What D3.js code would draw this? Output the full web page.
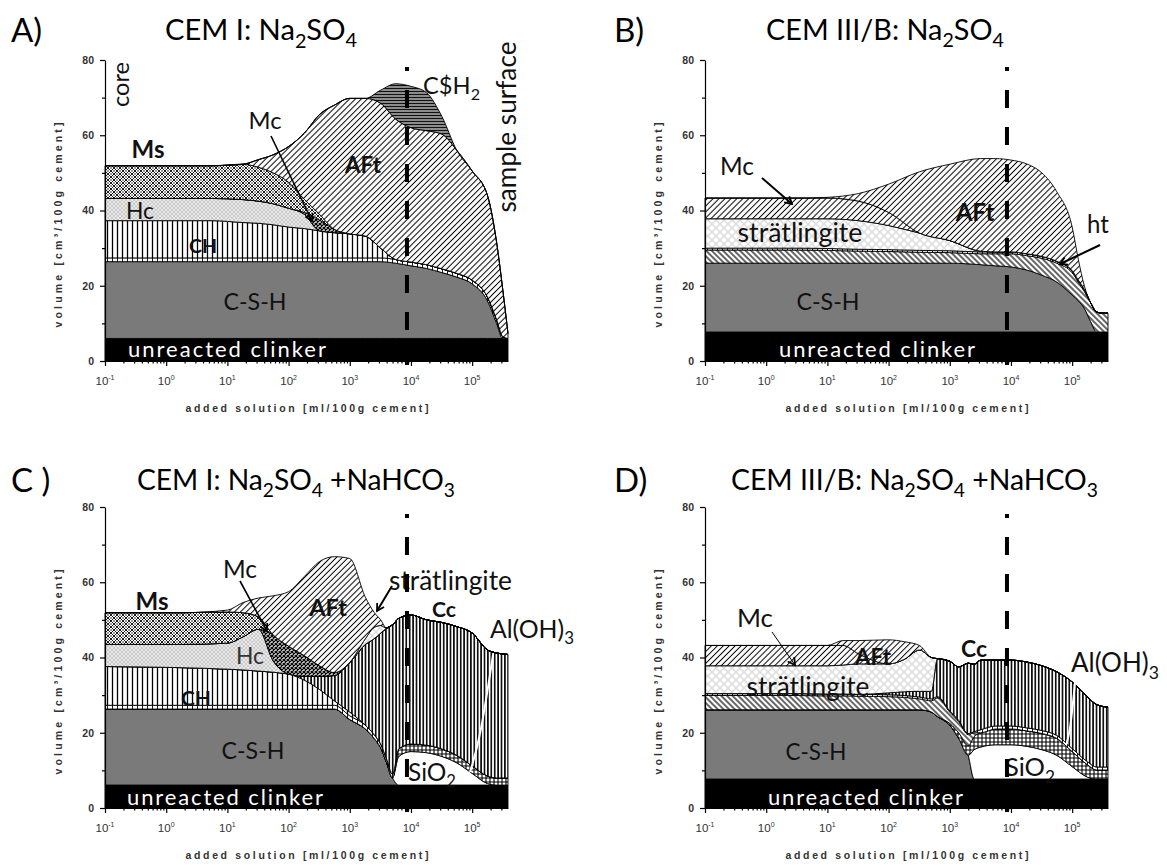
<!DOCTYPE html>
<html>
<head>
<meta charset="utf-8">
<script src="https://cdn.jsdelivr.net/npm/d3@7"></script>
<style>
  html, body { margin: 0; padding: 0; background: #fff; }
  svg { display: block; }
</style>
</head>
<body>
<svg id="chart" width="1167" height="865"></svg>
<script>
// ---------------------------------------------------------------------------
// Phase volumes [cm3/100 g cement] versus added solution [ml/100 g cement]
// ---------------------------------------------------------------------------

// A) CEM I: Na2SO4
const solutionA = [0.1, 5.6, 18, 32, 56, 100, 180, 320, 560, 1000, 1800, 3200, 5600, 10000, 18000, 32000, 56000, 100000, 178000, 251000, 316000, 385000];
const clinkerA  = [6, 6, 6, 6, 6, 6, 6, 6, 6, 6, 6, 6, 6, 6, 6, 6, 6, 6, 6, 6, 6, 6];
const cshA      = [20.4, 20.4, 20.4, 20.4, 20.4, 20.4, 20.4, 20.4, 20.4, 20.4, 20.4, 20.4, 20.0, 19.3, 18.6, 17.5, 16.3, 14.5, 10, 4, 0, 0];
const htA       = [1, 1, 1, 1, 1, 1, 1, 1, 1, 1, 1, 1, 1, 1, 1, 1, 1, 1, 1, 1, 0.5, 0];
const chA       = [9.9, 9.9, 9.4, 9.2, 8.8, 8.2, 7.8, 7.2, 6.7, 6.4, 5.8, 2.6, 0, 0, 0, 0, 0, 0, 0, 0, 0, 0];
const hcA       = [5.9, 5.9, 6.1, 5.9, 5.6, 5.0, 3.8, 0, 0, 0, 0, 0, 0, 0, 0, 0, 0, 0, 0, 0, 0, 0];
const mcA       = [0, 0, 0, 0, 0, 0, 0.5, 2.9, 0.9, 0, 0, 0, 0, 0, 0, 0, 0, 0, 0, 0, 0, 0];
const msA       = [8.7, 8.7, 9.4, 9.0, 8.2, 6.9, 3.5, 1.5, 0, 0, 0, 0, 0, 0, 0, 0, 0, 0, 0, 0, 0, 0];
const aftA      = [0, 0, 0, 2.0, 4.8, 9.5, 17.5, 26.5, 33, 36, 36.6, 38.5, 37.3, 35.7, 35.6, 35.8, 32.7, 29, 27, 20.5, 12.5, 1.3];
const gypsumA   = [0, 0, 0, 0, 0, 0, 0, 0, 0, 0, 0, 3.5, 9.4, 11, 10.1, 4.7, 0, 0, 0, 0, 0, 0];

// B) CEM III/B: Na2SO4
const solutionB = [0.1, 3.2, 10, 32, 100, 320, 1000, 3200, 5600, 10000, 18000, 32000, 56000, 100000, 126000, 158000, 200000, 251000, 316000, 385000];
const clinkerB  = [7.7, 7.7, 7.7, 7.7, 7.7, 7.7, 7.7, 7.7, 7.7, 7.7, 7.7, 7.7, 7.7, 7.7, 7.7, 7.7, 7.7, 7.7, 7.7, 7.7];
const cshB      = [18.3, 18.3, 18.3, 18.3, 18.3, 18.3, 18.3, 17.9, 17.6, 17.3, 16.5, 15.1, 13.3, 9.8, 8.3, 6.3, 2.8, 0, 0, 0];
const htB       = [3.5, 3.5, 3.4, 3.2, 3.1, 2.9, 2.8, 2.9, 3.2, 3.5, 3.8, 4.5, 5, 6, 5, 4.5, 5, 5.3, 5, 5];
const traceB    = [0.5, 0.5, 0.5, 0.5, 0.5, 0.5, 0.5, 0.5, 0.5, 0.5, 0.5, 0.5, 0.5, 0.5, 0.5, 0.5, 0, 0, 0, 0];
const stratB    = [7.8, 7.8, 7.9, 7.6, 6.4, 4.6, 2.7, 0.2, 0, 0, 0, 0, 0, 0, 0, 0, 0, 0, 0, 0];
const mcB       = [5.5, 5.5, 5.5, 5.2, 3.5, 0, 0, 0, 0, 0, 0, 0, 0, 0, 0, 0, 0, 0, 0, 0];
const aftB      = [0, 0, 0.2, 2.0, 7.5, 16.3, 20.3, 24.6, 24.8, 24.4, 23.9, 22.2, 18.5, 11.6, 5.5, 1.0, 0, 0, 0, 0];

// C) CEM I: Na2SO4 + NaHCO3
const solutionC = [0.1, 1.8, 10, 18, 32, 56, 100, 180, 320, 560, 1000, 1800, 2500, 3200, 4000, 5000, 6300, 10000, 18000, 32000, 56000, 100000, 178000, 251000, 385000];
const clinkerC  = [6.1, 6.1, 6.1, 6.1, 6.1, 6.1, 6.1, 6.1, 6.1, 6.1, 6.1, 6.1, 6.1, 6.1, 6.1, 6.1, 6.1, 6.1, 6.1, 6.1, 6.1, 6.1, 6.1, 6.1, 6.1];
const cshC      = [20.2, 20.2, 20.2, 20.2, 20.2, 20.2, 20.2, 20.2, 20.2, 20.2, 17.4, 14.9, 12.4, 9.9, 5.9, 1.9, 0, 0, 0, 0, 0, 0, 0, 0, 0];
const sio2C     = [0, 0, 0, 0, 0, 0, 0, 0, 0, 0, 0, 0, 0, 0, 0, 0, 7.6, 8.9, 8.6, 7.6, 5.9, 3.1, 0.4, 0, 0];
const alohC     = [0, 0, 0, 0, 0, 0, 0, 0, 0, 0, 0, 0, 0, 0, 0, 0, 2, 2, 2, 2, 2, 2, 2, 1.9, 1.9];
const htC       = [1, 1, 1, 1, 1, 1, 1, 1, 1, 1, 1, 1, 1, 1, 1, 1, 0, 0, 0, 0, 0, 0, 0, 0, 0];
const chC       = [10.3, 10.0, 9.6, 9.4, 9.1, 8.8, 8.3, 6.7, 4.2, 1.2, 1.0, 0, 0, 0, 0, 0, 0, 0, 0, 0, 0, 0, 0, 0, 0];
const ccC       = [0, 0, 0, 0, 0, 0, 0, 1.0, 3.5, 6.7, 13.2, 21.5, 25.5, 29.5, 34.8, 39.7, 34.7, 34.3, 33.3, 33.6, 34.2, 35.3, 33.5, 33.2, 32.8];
const hcC       = [5.9, 6.2, 6.9, 8.8, 11.1, 3.0, 0, 0, 0, 0, 0, 0, 0, 0, 0, 0, 0, 0, 0, 0, 0, 0, 0, 0, 0];
const mcC       = [0, 0, 0, 0, 0, 6.9, 7.4, 5.5, 2.8, 0.8, 0, 0, 0, 0, 0, 0, 0, 0, 0, 0, 0, 0, 0, 0, 0];
const msC       = [8.4, 8.4, 8.3, 6.4, 3.3, 0, 0, 0, 0, 0, 0, 0, 0, 0, 0, 0, 0, 0, 0, 0, 0, 0, 0, 0, 0];
const stratC    = [0, 0, 0, 0, 0, 0, 0, 0, 0, 0, 0, 1.5, 3.0, 2.0, 0, 0, 0, 0, 0, 0, 0, 0, 0, 0, 0];
const aftC      = [0, 0, 0.5, 2.7, 5.0, 10.4, 14.5, 21, 27.7, 30.8, 27.6, 11, 4, 1.5, 0, 0, 0, 0, 0, 0, 0, 0, 0, 0, 0];

// D) CEM III/B: Na2SO4 + NaHCO3
const solutionD = [0.1, 3.2, 10, 18, 32, 100, 180, 320, 500, 630, 1000, 1400, 2000, 2500, 3200, 5600, 10000, 18000, 32000, 56000, 100000, 178000, 251000, 385000];
const clinkerD  = [7.7, 7.7, 7.7, 7.7, 7.7, 7.7, 7.7, 7.7, 7.7, 7.7, 7.7, 7.7, 7.7, 7.7, 7.7, 7.7, 7.7, 7.7, 7.7, 7.7, 7.7, 7.7, 7.7, 7.7];
const cshD      = [18.4, 18.4, 18.4, 18.4, 18.4, 18.4, 18.4, 18.4, 17.8, 16.6, 14.3, 10.8, 6.3, 0, 0, 0, 0, 0, 0, 0, 0, 0, 0, 0];
const sio2D     = [0, 0, 0, 0, 0, 0, 0, 0, 0, 0, 0, 0, 0, 7.8, 8.5, 9.1, 9.1, 8.7, 7.8, 6.3, 3.3, 0.5, 0, 0];
const alohD     = [0, 0, 0, 0, 0, 0, 0, 0, 0, 0, 0.5, 1.5, 2.5, 3.5, 3.8, 4.2, 4.2, 4.1, 4.3, 4.5, 4.0, 3.3, 2.4, 2.4];
const htD       = [3.8, 3.8, 3.7, 3.7, 3.6, 3.5, 3.3, 2.9, 3.0, 5.0, 3.0, 3.0, 3.0, 1.0, 0, 0, 0, 0, 0, 0, 0, 0, 0, 0];
const traceD    = [0.5, 0.5, 0.5, 0.5, 0.5, 0.5, 0.5, 0.5, 0.5, 0.3, 0.3, 0.3, 0.3, 0.3, 0.8, 0.8, 0.8, 0.8, 0.8, 0.8, 0.8, 0.8, 0.8, 0.8];
const ccD       = [0, 0, 0, 0, 0, 0.5, 1.0, 1.5, 2.0, 10.1, 13.2, 14.2, 18.7, 17.9, 18.5, 17.5, 17.5, 17.5, 17.2, 16.9, 17.7, 17.2, 16.6, 15.9];
const stratD    = [7.4, 7.4, 7.5, 7.7, 8.1, 7.7, 8.6, 11, 9.0, 0, 0, 0, 0, 0, 0, 0, 0, 0, 0, 0, 0, 0, 0, 0];
const mcD       = [5.4, 5.4, 5.4, 5.2, 2.7, 0, 0, 0, 0, 0, 0, 0, 0, 0, 0, 0, 0, 0, 0, 0, 0, 0, 0, 0];
const aftD      = [0, 0, 0, 1.3, 3.5, 6.4, 4.7, 1.2, 0, 0, 0, 0, 0, 0, 0, 0, 0, 0, 0, 0, 0, 0, 0, 0];

// Axis ticks
const volumeTicks      = [0, 20, 40, 60, 80];
const volumeMinorTicks = [10, 30, 50, 70];
const solutionDecades  = [0.1, 1, 10, 100, 1000, 10000, 100000];
const decadeExponents  = ["-1", "0", "1", "2", "3", "4", "5"];
const solutionDomain   = [0.1, 385000];
const outerSurfaceAt   = 8600;   // position of the dashed marker line

// ---------------------------------------------------------------------------
const svg = d3.select("#chart");
const defs = svg.append("defs");

function makePattern(id, w, h, build, rotate) {
  const p = defs.append("pattern").attr("id", id)
    .attr("patternUnits", "userSpaceOnUse").attr("width", w).attr("height", h);
  if (rotate) p.attr("patternTransform", `rotate(${rotate})`);
  build(p, w, h);
}
const bg = (p, w, h, c) => p.append("rect").attr("width", w).attr("height", h).attr("fill", c);

makePattern("pat-vlines", 5, 5, (p, w, h) => {          // portlandite
  bg(p, w, h, "#fff");
  p.append("line").attr("x1", 2.5).attr("x2", 2.5).attr("y1", 0).attr("y2", h).attr("stroke", "#000").attr("stroke-width", 1.3);
});
makePattern("pat-cc", 3.4, 4, (p, w, h) => {            // calcite
  bg(p, w, h, "#fff");
  p.append("line").attr("x1", 1.7).attr("x2", 1.7).attr("y1", 0).attr("y2", h).attr("stroke", "#000").attr("stroke-width", 1.6);
});
makePattern("pat-ladder", 5, 4, (p, w, h) => {          // thin bands
  bg(p, w, h, "#fff");
  p.append("line").attr("x1", 2.5).attr("x2", 2.5).attr("y1", 0).attr("y2", h).attr("stroke", "#000").attr("stroke-width", 0.9);
});
makePattern("pat-hc", 4, 4, (p, w, h) => {              // hemicarbonate
  bg(p, w, h, "#cbcbcb");
  p.append("path").attr("d", "M0,0L4,4M4,0L0,4").attr("stroke", "#f0f0f0").attr("stroke-width", 0.8);
});
makePattern("pat-ms", 6, 6, (p, w, h) => {              // monosulfate
  bg(p, w, h, "#fff");
  p.append("path").attr("d", "M0,0L6,6M6,0L0,6").attr("stroke", "#000").attr("stroke-width", 0.9);
  [[3, 0], [0, 3], [6, 3], [3, 6]].forEach(([cx, cy]) =>
    p.append("circle").attr("cx", cx).attr("cy", cy).attr("r", 0.75).attr("fill", "#000"));
});
makePattern("pat-mc", 4, 4, (p, w, h) => {              // monocarbonate (dense)
  bg(p, w, h, "#fff");
  p.append("path").attr("d", "M0,0L4,4M4,0L0,4").attr("stroke", "#000").attr("stroke-width", 1.2);
  [[2, 0], [0, 2], [4, 2], [2, 4]].forEach(([cx, cy]) =>
    p.append("circle").attr("cx", cx).attr("cy", cy).attr("r", 0.5).attr("fill", "#000"));
});
makePattern("pat-fwd", 4.2, 4.2, (p, w, h) => {         // "////" hatch
  bg(p, w, h, "#fff");
  p.append("line").attr("x1", 2.1).attr("x2", 2.1).attr("y1", 0).attr("y2", h).attr("stroke", "#000").attr("stroke-width", 1.0);
}, 45);
makePattern("pat-back", 4, 4, (p, w, h) => {            // "\\\\" hatch
  bg(p, w, h, "#fff");
  p.append("line").attr("x1", 2).attr("x2", 2).attr("y1", 0).attr("y2", h).attr("stroke", "#000").attr("stroke-width", 1.2);
}, -45);
makePattern("pat-gyp", 3, 3, (p, w, h) => {             // gypsum
  bg(p, w, h, "#8c8c8c");
  p.append("line").attr("x1", 0).attr("x2", w).attr("y1", 1.5).attr("y2", 1.5).attr("stroke", "#111").attr("stroke-width", 1);
});
makePattern("pat-strat", 8, 8, (p, w, h) => {           // strätlingite
  bg(p, w, h, "#fff");
  p.append("path").attr("d", "M0,0L8,8M8,0L0,8").attr("stroke", "#dcdcdc").attr("stroke-width", 1.4);
});
makePattern("pat-aloh", 4, 4, (p, w, h) => {            // Al(OH)3
  bg(p, w, h, "#fff");
  p.append("path").attr("d", "M2,0V4M0,2H4").attr("stroke", "#000").attr("stroke-width", 1.1);
});

defs.append("marker").attr("id", "arrow-head")
  .attr("viewBox", "-8 -5 10 10").attr("refX", 0).attr("refY", 0)
  .attr("markerWidth", 10).attr("markerHeight", 10).attr("markerUnits", "userSpaceOnUse")
  .attr("orient", "auto")
  .append("path").attr("d", "M-7,-4L0,0L-7,4").attr("fill", "none").attr("stroke", "#000").attr("stroke-width", 1.8);

const FILL = {
  clinker: "#000", csh: "#7a7a7a", sio2: "#fff",
  ht: "url(#pat-ladder)", htHatch: "url(#pat-back)", trace: "url(#pat-ladder)",
  ch: "url(#pat-vlines)", cc: "url(#pat-cc)", hc: "url(#pat-hc)",
  ms: "url(#pat-ms)", mcCross: "url(#pat-mc)", mcHatch: "url(#pat-fwd)",
  aft: "url(#pat-fwd)", gypsum: "url(#pat-gyp)", strat: "url(#pat-strat)", aloh: "url(#pat-aloh)"
};

// ---------------------------------------------------------------------------
const panels = [
  {
    letter: "A)", letterX: 11, title: "CEM I: Na_2SO_4", titleX: 165, titleW: 192, top: 0,
    x0: 105, y0: 361, solution: solutionA,
    layers: [["clinker", clinkerA, "clinker"], ["csh", cshA, "csh"], ["ht", htA, "ht"], ["ch", chA, "ch"],
             ["hc", hcA, "hc"], ["mc", mcA, "mcCross"], ["ms", msA, "ms"], ["aft", aftA, "aft"], ["gypsum", gypsumA, "gypsum"]],
    labels: [
      { t: "core", x: 129, y: 84.5, anchor: "middle", rotate: -90, w: 45 },
      { t: "sample surface", x: 516, y: 127, anchor: "middle", rotate: -90, w: 171 },
      { t: "Ms", x: 148, y: 158, anchor: "middle", bold: true, w: 33 },
      { t: "Mc", x: 265, y: 129, anchor: "middle", w: 33 },
      { t: "AFt", x: 363, y: 173, anchor: "middle", bold: true, w: 37 },
      { t: "C$H_2", x: 423, y: 94, w: 57 },
      { t: "Hc", x: 140, y: 219, anchor: "middle", w: 28 },
      { t: "CH", x: 203, y: 253, anchor: "middle", bold: true, w: 28 },
      { t: "C-S-H", x: 255, y: 310, anchor: "middle", w: 63 },
      { t: "unreacted clinker", x: 128, y: 357, color: "#fff", w: 198, spacing: true }
    ],
    arrows: [{ from: [271, 136], to: [312, 221], w: 1.6 }],
    whiteLines: []
  },
  {
    letter: "B)", letterX: 614, title: "CEM III/B: Na_2SO_4", titleX: 766, titleW: 238, top: 0,
    x0: 705, y0: 361, solution: solutionB,
    layers: [["clinker", clinkerB, "clinker"], ["csh", cshB, "csh"], ["ht", htB, "htHatch"], ["trace", traceB, "trace"],
             ["strat", stratB, "strat"], ["mc", mcB, "mcHatch"], ["aft", aftB, "aft"]],
    labels: [
      { t: "Mc", x: 737, y: 175, anchor: "middle", w: 34 },
      { t: "AFt", x: 975, y: 221, anchor: "middle", bold: true, w: 40 },
      { t: "strätlingite", x: 800, y: 242, anchor: "middle", w: 125 },
      { t: "ht", x: 1087, y: 233, w: 22 },
      { t: "C-S-H", x: 828, y: 310, anchor: "middle", w: 63 },
      { t: "unreacted clinker", x: 779, y: 357, color: "#fff", w: 196, spacing: true }
    ],
    arrows: [{ from: [762, 178], to: [792, 204], w: 2 }, { from: [1100, 245], to: [1060, 264], w: 2 }],
    whiteLines: []
  },
  {
    letter: "C )", letterX: 11, title: "CEM I: Na_2SO_4 +NaHCO_3", titleX: 137, titleW: 318, top: 450,
    x0: 105, y0: 808, solution: solutionC,
    layers: [["clinker", clinkerC, "clinker"], ["csh", cshC, "csh"], ["sio2", sio2C, "sio2"], ["aloh", alohC, "aloh"],
             ["ht", htC, "ht"], ["ch", chC, "ch"], ["cc", ccC, "cc"], ["hc", hcC, "hc"], ["mc", mcC, "mcCross"],
             ["ms", msC, "ms"], ["strat", stratC, "strat"], ["aft", aftC, "aft"]],
    labels: [
      { t: "Ms", x: 152, y: 610, anchor: "middle", bold: true, w: 33 },
      { t: "Mc", x: 240, y: 578, anchor: "middle", w: 34 },
      { t: "Hc", x: 250, y: 664, anchor: "middle", w: 28, color: "#333" },
      { t: "CH", x: 196, y: 706, anchor: "middle", bold: true, w: 30 },
      { t: "AFt", x: 328, y: 616, anchor: "middle", bold: true, w: 39 },
      { t: "strätlingite", x: 389, y: 590, w: 123 },
      { t: "Cc", x: 444, y: 617, anchor: "middle", bold: true, w: 24 },
      { t: "Al(OH)_3", x: 490, y: 638, w: 84 },
      { t: "SiO_2", x: 408, y: 781, w: 48 },
      { t: "C-S-H", x: 253, y: 759, anchor: "middle", w: 63 },
      { t: "unreacted clinker", x: 127, y: 805, color: "#fff", w: 196, spacing: true }
    ],
    arrows: [{ from: [240, 581], to: [267, 631], w: 1.6 }, { from: [392, 586], to: [377, 611], w: 2 }],
    whiteLines: [[[493, 655], [480, 740], [470, 772]]]
  },
  {
    letter: "D)", letterX: 614, title: "CEM III/B: Na_2SO_4 +NaHCO_3", titleX: 731, titleW: 367, top: 450,
    x0: 705, y0: 808, solution: solutionD,
    layers: [["clinker", clinkerD, "clinker"], ["csh", cshD, "csh"], ["sio2", sio2D, "sio2"], ["aloh", alohD, "aloh"],
             ["ht", htD, "htHatch"], ["trace", traceD, "trace"], ["cc", ccD, "cc"], ["strat", stratD, "strat"],
             ["mc", mcD, "mcHatch"], ["aft", aftD, "aft"]],
    labels: [
      { t: "Mc", x: 755, y: 627, anchor: "middle", w: 36 },
      { t: "AFt", x: 873, y: 665, anchor: "middle", bold: true, w: 37 },
      { t: "strätlingite", x: 808, y: 696, anchor: "middle", w: 123 },
      { t: "Cc", x: 974, y: 657, anchor: "middle", bold: true, w: 26 },
      { t: "Al(OH)_3", x: 1071, y: 672, w: 88 },
      { t: "SiO_2", x: 1005, y: 776, w: 50 },
      { t: "C-S-H", x: 816, y: 760, anchor: "middle", w: 61 },
      { t: "unreacted clinker", x: 768, y: 805, color: "#fff", w: 195, spacing: true }
    ],
    arrows: [{ from: [772, 632], to: [795, 665], w: 1 }],
    whiteLines: [[[1075, 683], [1070, 733], [1066, 745]]]
  }
];

const PLOT_W = 403, PLOT_H = 301;

// text with "_x" subscripts
function richText(sel, str) {
  const parts = str.split(/(_\w)/).filter(s => s.length);
  let sub = false;
  parts.forEach(part => {
    if (part[0] === "_") {
      sel.append("tspan").attr("font-size", "68%").attr("dy", "0.38em").text(part.slice(1));
      sub = true;
    } else {
      const ts = sel.append("tspan").text(part);
      if (sub) { ts.attr("dy", "-0.26em"); sub = false; }
    }
  });
}

function fitText(t, width, bySpacing) {
  const bw = t.node().getBBox().width;
  if (bySpacing) {
    const n = t.text().length;
    t.attr("letter-spacing", (width - bw) / (n - 1));
  } else {
    t.attr("font-size", parseFloat(t.attr("font-size")) * width / bw);
  }
}

panels.forEach(p => {
  const g = svg.append("g");
  const x = d3.scaleLog().domain(solutionDomain).range([p.x0, p.x0 + PLOT_W]);
  const y = d3.scaleLinear().domain([0, 80]).range([p.y0, p.y0 - PLOT_H]);

  // stacked phase assemblage
  const keys = p.layers.map(l => l[0]);
  const rows = p.solution.map((s, i) => {
    const r = { solution: s };
    p.layers.forEach(([k, v]) => { r[k] = v[i]; });
    return r;
  });
  const series = d3.stack().keys(keys)(rows);
  const fillOf = {};
  p.layers.forEach(([k, , f]) => { fillOf[k] = FILL[f]; });
  const area = d3.area()
    .curve(d3.curveMonotoneX)
    .x(d => x(d.data.solution))
    .y0(d => y(d[0]))
    .y1(d => y(d[1]));
  g.append("g").selectAll("path").data(series).join("path")
    .attr("d", area)
    .attr("fill", d => fillOf[d.key])
    .attr("stroke", "#000")
    .attr("stroke-width", 0.9)
    .attr("stroke-linejoin", "round");

  // axes
  const axisFont = "'Liberation Sans', Arial, sans-serif";
  const yAxis = g.append("g").attr("transform", `translate(${p.x0},0)`)
    .call(d3.axisLeft(y).tickValues(volumeTicks).tickSize(5).tickSizeOuter(0).tickPadding(6));
  g.append("g").attr("transform", `translate(${p.x0},0)`)
    .call(d3.axisLeft(y).tickValues(volumeMinorTicks).tickSize(3).tickSizeOuter(0).tickFormat(""))
    .select(".domain").remove();
  yAxis.selectAll("text").attr("font-family", axisFont).attr("font-size", 10.5).attr("font-weight", 700).attr("fill", "#333");

  const minor = [];
  solutionDecades.forEach(d => { for (let m = 2; m <= 9; m++) if (d * m <= solutionDomain[1]) minor.push(d * m); });
  g.append("g").attr("transform", `translate(0,${p.y0})`)
    .call(d3.axisBottom(x).tickValues(solutionDecades).tickSize(5).tickSizeOuter(0).tickFormat(""));
  g.append("g").attr("transform", `translate(0,${p.y0})`)
    .call(d3.axisBottom(x).tickValues(minor).tickSize(2.5).tickSizeOuter(0).tickFormat(""))
    .select(".domain").remove();
  g.selectAll(".domain, .tick line").attr("stroke", "#000").attr("stroke-width", 1.2);

  solutionDecades.forEach((d, i) => {
    const t = g.append("text").attr("x", x(d)).attr("y", p.y0 + 24)
      .attr("text-anchor", "middle").attr("font-family", axisFont)
      .attr("font-size", 11.5).attr("fill", "#333");
    t.append("tspan").text("10");
    t.append("tspan").attr("font-size", 7).attr("dy", -5.5).text(decadeExponents[i]);
  });

  const xl = g.append("text").attr("x", p.x0 + PLOT_W / 2 - 121).attr("y", p.y0 + 51)
    .attr("font-family", axisFont).attr("font-size", 10.5).attr("font-weight", 700).attr("fill", "#333")
    .text("added solution [ml/100g cement]");
  fitText(xl, 243, true);

  const ylx = p.x0 - 43, yly = p.y0 - 136;
  const yl = g.append("text").attr("x", ylx - 102.5).attr("y", yly)
    .attr("transform", `rotate(-90,${ylx},${yly})`)
    .attr("font-family", axisFont).attr("font-size", 10.5).attr("font-weight", 700).attr("fill", "#333")
    .text("volume [cm³/100g cement]");
  fitText(yl, 205, true);

  // headings
  g.append("text").attr("x", p.letterX).attr("y", p.top + 42)
    .attr("font-family", "Lato, sans-serif").attr("font-size", 33).attr("fill", "#000")
    .text(p.letter);
  const tt = g.append("text").attr("x", p.titleX).attr("y", p.top + 40)
    .attr("font-family", "Lato, sans-serif").attr("font-size", 24).attr("fill", "#000");
  richText(tt, p.title);
  fitText(tt, p.titleW);

  // phase labels
  p.labels.forEach(a => {
    const t = g.append("text").attr("x", a.x).attr("y", a.y)
      .attr("font-family", "Lato, sans-serif")
      .attr("font-size", a.bold ? 19 : 22)
      .attr("font-weight", a.bold ? 700 : 400)
      .attr("fill", a.color || "#111")
      .attr("text-anchor", a.anchor || "start");
    if (a.rotate) t.attr("transform", `rotate(${a.rotate},${a.x},${a.y})`);
    richText(t, a.t);
    if (a.w) fitText(t, a.w, a.spacing);
  });

  p.arrows.forEach(a => {
    g.append("line").attr("x1", a.from[0]).attr("y1", a.from[1]).attr("x2", a.to[0]).attr("y2", a.to[1])
      .attr("stroke", "#000").attr("stroke-width", a.w).attr("marker-end", "url(#arrow-head)");
  });
  p.whiteLines.forEach(pts => {
    g.append("path").attr("d", d3.line().curve(d3.curveBasis)(pts))
      .attr("fill", "none").attr("stroke", "#fff").attr("stroke-width", 2);
  });

  // dashed line at the outer sample surface
  const xs = x(outerSurfaceAt);
  g.append("line").attr("x1", xs).attr("x2", xs).attr("y1", p.y0 - 294).attr("y2", p.y0 - 290)
    .attr("stroke", "#000").attr("stroke-width", 4);
  g.append("line").attr("x1", xs).attr("x2", xs).attr("y1", p.y0 - 271).attr("y2", p.y0 + 4)
    .attr("stroke", "#000").attr("stroke-width", 4).attr("stroke-dasharray", "18 19");
});
</script>
</body>
</html>
